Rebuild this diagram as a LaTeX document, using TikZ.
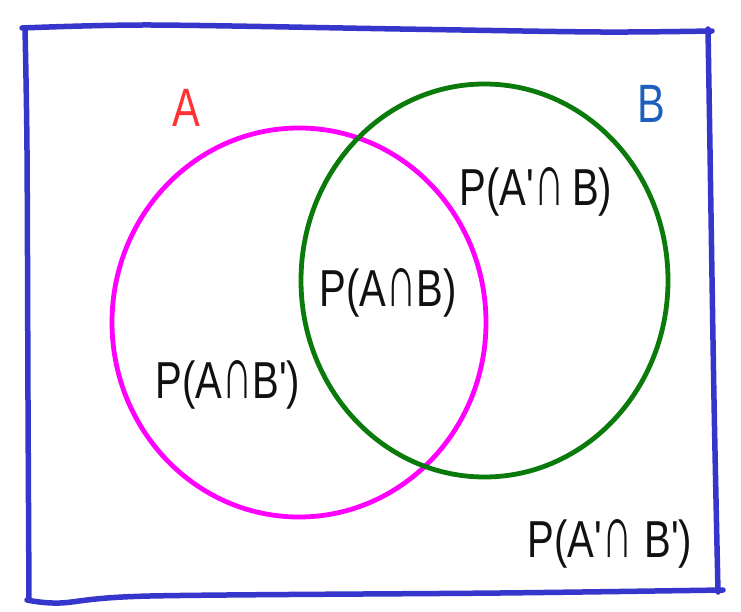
\documentclass[tikz,border=0pt]{standalone}
\usepackage{fontspec}
\usepackage{graphicx}
\newfontfamily\hand[FakeStretch=0.77,Ligatures=TeXOff]{Liberation Sans}
\newcommand{\tallcap}{\scalebox{1.05}[1.45]{∩}}
\definecolor{boxblue}{HTML}{3636CC}
\definecolor{setA}{HTML}{FF00FF}
\definecolor{setB}{HTML}{0A7A0A}
\definecolor{labA}{HTML}{FF3333}
\definecolor{labB}{HTML}{1C5FBF}
\definecolor{ink}{HTML}{111111}
\tikzset{
  boxline/.style={draw=boxblue, line width=5.5pt, line cap=round, line join=round},
  setline/.style={line width=4.8pt},
  prob/.style={inner sep=0pt, text=ink, font=\hand\fontsize{52}{52}\selectfont},
  setlabel/.style={inner sep=0pt, font=\hand\fontsize{54}{54}\selectfont},
}
\begin{document}
\begin{tikzpicture}[x=1pt,y=-1pt]
\useasboundingbox (0,0) rectangle (741,612);
\fill[white] (0,0) rectangle (741,612);
% universe box (hand drawn)
\draw[boxline] plot[smooth, tension=0.5] coordinates {(22,28) (150,25) (400,29) (600,32) (712,31)};
\draw[boxline] plot[smooth, tension=0.5] coordinates {(708,29) (710,150) (714,400) (718,592)};
\draw[boxline] plot[smooth, tension=0.5] coordinates {(723,590) (500,593) (150,596) (60,603) (27,600)};
\draw[boxline] plot[smooth, tension=0.5] coordinates {(25,28) (27,150) (28,400) (29,600)};
% sets
\draw[setline, draw=setA] (299,322.5) ellipse [x radius=187pt, y radius=194.5pt];
\draw[setline, draw=setB] (484.5,280.5) ellipse [x radius=183.5pt, y radius=196.5pt];
% labels
\node[setlabel, text=labA] (lA) at (186,108) {A};
\node[setlabel, text=labB] (lB) at (651,104) {B};
\node[prob] (AB) at (388,293) {P(A\tallcap B)};
\node[prob] (AnB) at (536,192) {P(A'\tallcap\hspace{8pt}B)};
\node[prob] (ABn) at (228,385) {P(A\tallcap B')};
\node[prob] (AnBn) at (610,544) {P(A'\tallcap\hspace{12pt}B')};
\end{tikzpicture}
\end{document}
